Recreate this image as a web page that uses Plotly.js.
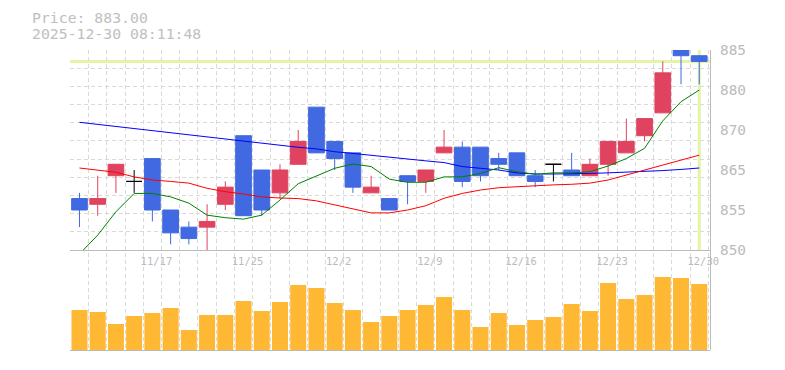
<!DOCTYPE html>
<html><head><meta charset="utf-8">
<script src="https://cdn.plot.ly/plotly-3.0.1.min.js"></script>
<style>html,body{margin:0;padding:0;background:#fff}#chart{width:785px;height:370px}</style>
</head><body><div id="chart"></div>
<script>
// ---- data ----
const dates = ['11/11','11/12','11/13','11/14','11/17','11/18','11/19','11/20','11/21',
  '11/25','11/26','11/27','11/28','12/1','12/2','12/3','12/4','12/5','12/8','12/9',
  '12/10','12/11','12/12','12/15','12/16','12/17','12/18','12/19','12/22','12/23',
  '12/24','12/25','12/26','12/29','12/30'];
const openP  = [859,858,863,862,866,857,854,854,858,870,864,860,865,875,869,867,860,859,863,862,867,868,868,866,867,863,865,864,863,865,867,870,874,885,884];
const highP  = [860,863,865,864,866,857,855,858,862,870,864,865,871,875,869,867,863,859,863,864,871,869,868,867,867,864,865,867,866,869,873,873,883,885,884];
const lowP   = [854,856,860,860,855,851,851,849,857,856,856,859,865,867,864,860,860,857,858,860,867,861,862,864,863,861,862,863,863,863,867,869,874,879,879];
const closeP = [857,859,865,862,857,853,852,855,861,856,857,864,869,867,866,861,861,857,862,864,868,862,863,865,863,862,865,863,865,869,869,873,881,884,883];
const maShort = [849.3,852.6,856.7,859.9,859.9,859.3,858.2,856.1,855.65,855.4,856.1,858.75,861.6,862.95,864.3,865.05,864.6,862.4,861.85,861.85,862.8,862.8,863.4,864.4,863.7,863.25,863.5,863.5,863.7,864.7,866.0,867.8,872.6,875.95,878.0];
const maMid = [864.35,863.95,863.6,862.8,862.25,862.0,861.7,860.8,860.2,859.8,859.3,859.1,859.0,858.6,857.9,857.1,856.5,856.5,857.0,857.75,859.05,859.9,860.5,860.9,861.1,861.3,861.4,861.5,861.7,862.25,863.1,864.0,864.9,865.75,866.6];
const maLong = [872.35,871.98,871.6,871.25,870.9,870.5,870.16,869.8,869.4,869.1,868.7,868.3,867.97,867.7,867.2,866.9,866.55,866.2,865.9,865.6,865.3,864.6,864.3,864.0,863.5,863.3,863.3,863.3,863.4,863.5,863.6,863.8,863.9,864.1,864.35];
const volume = [40,38,26,34,37,42,20,35,35,49,39,48,65,62,47,40,28,34,40,45,53,40,23,37,25,30,33,46,39,67,51,55,73,72,66];
const yTickVals = [850,857,864,871,878,885];
const yTickText = ['850','855','865','870','880','885'];
const stamp = '2025-12-30 08:11:48';

// ---- derived ----
const xs = dates.map((d,i)=>i);
const last = xs.length-1;
const lastClose = closeP[last];
const xTickVals = xs.filter(i => (last - i) % 5 === 0);
const xTickText = xTickVals.map(i => dates[i]);
const isDoji = xs.map(i => openP[i] === closeP[i]);
const pick = (arr, want) => xs.filter(i => isDoji[i] === want).map(i => arr[i]);

const RED = '#e0435f', BLUE = '#4169e1', GREY = '#bbbbbb', GRID = '#d9d9d9';
const FONT = 'DejaVu Sans Mono, Liberation Mono, monospace';
const XR = [-0.52, 34.59];
const YR = [850, 885.0001];

const traces = [
  {type:'scatter', x:[], y:[], xaxis:'x', yaxis:'y', showlegend:false, hoverinfo:'skip'},
  {type:'scatter', mode:'lines', x:[xs[0], xs[last]], y:[null, null], xaxis:'x2', yaxis:'y3', showlegend:false, hoverinfo:'skip'},
  {type:'scatter', mode:'lines', x:xs, y:maLong, xaxis:'x2', yaxis:'y2', line:{color:'#0000ff', width:1}, showlegend:false},
  {type:'scatter', mode:'lines', x:xs, y:maMid, xaxis:'x2', yaxis:'y2', line:{color:'#ff0000', width:1}, showlegend:false},
  {type:'scatter', mode:'lines', x:xs, y:maShort, xaxis:'x2', yaxis:'y2', line:{color:'#008000', width:1}, showlegend:false},
  {type:'candlestick', x:pick(xs,false), open:pick(openP,false), high:pick(highP,false), low:pick(lowP,false), close:pick(closeP,false),
   xaxis:'x2', yaxis:'y2', showlegend:false, whiskerwidth:0,
   increasing:{line:{color:RED, width:1}, fillcolor:RED},
   decreasing:{line:{color:BLUE, width:1}, fillcolor:BLUE}},
  {type:'candlestick', x:pick(xs,true), open:pick(openP,true), high:pick(highP,true), low:pick(lowP,true), close:pick(closeP,true),
   xaxis:'x2', yaxis:'y2', showlegend:false, whiskerwidth:0,
   increasing:{line:{color:'#000000', width:1}, fillcolor:'#000000'},
   decreasing:{line:{color:'#000000', width:1}, fillcolor:'#000000'}},
  {type:'bar', x:xs, y:volume, xaxis:'x3', yaxis:'y4', marker:{color:'#ffb833', line:{width:0}}, showlegend:false}
];

const layout = {
  width:785, height:370,
  margin:{l:70, r:75, t:50, b:20, pad:0},
  paper_bgcolor:'#ffffff', plot_bgcolor:'rgba(0,0,0,0)',
  showlegend:false, boxgap:0.14, boxgroupgap:0, bargap:0.12,
  font:{family:FONT, color:GREY, size:12},
  xaxis:{domain:[0,1], anchor:'y', range:XR, tickmode:'linear', tick0:0.5, dtick:1,
    showgrid:true, gridcolor:GRID, griddash:'4px,3px', gridwidth:1,
    showticklabels:false, ticks:'', zeroline:false, showline:false, fixedrange:true},
  yaxis:{domain:[0,1], anchor:'x', range:[0,1], side:'right', showline:true, linecolor:GREY, linewidth:1,
    showgrid:false, showticklabels:false, ticks:'', zeroline:false},
  xaxis2:{anchor:'y2', range:XR, rangeslider:{visible:false}, showgrid:false, zeroline:false,
    showline:true, linecolor:GREY, linewidth:1, tickmode:'array', tickvals:xTickVals, ticktext:xTickText,
    ticks:'', tickfont:{family:FONT, size:10.5, color:GREY}, ticklabelshift:4, ticklabelstandoff:1},
  yaxis2:{domain:[100/300,1], anchor:'x2', range:YR, tickmode:'linear', tick0:850, dtick:35/11,
    showgrid:true, gridcolor:GRID, griddash:'4px,3px', gridwidth:1,
    showticklabels:false, ticks:'', zeroline:false, showline:false},
  yaxis3:{overlaying:'y2', anchor:'x2', side:'right', range:YR, tickmode:'array', tickvals:yTickVals, ticktext:yTickText,
    showgrid:false, zeroline:false, showline:false, ticks:'', ticklabelstandoff:9, ticklabelshift:-2.5, showticklabels:true,
    tickfont:{family:FONT, size:14.4, color:GREY}},
  xaxis3:{anchor:'y4', range:XR, showgrid:false, zeroline:false, showline:true, linecolor:GREY, linewidth:1,
    showticklabels:false, ticks:''},
  yaxis4:{domain:[0,80/300], anchor:'x3', range:[0,80], showgrid:false, zeroline:false, showline:false,
    showticklabels:false, ticks:''},
  shapes:[
    {type:'line', xref:'paper', x0:0, x1:1, yref:'y2', y0:lastClose, y1:lastClose, line:{color:'#e3f4a6', width:3}, layer:'below'},
    {type:'line', xref:'x2', x0:last, x1:last, yref:'y2 domain', y0:0, y1:1, line:{color:'#e3f4a6', width:3}, layer:'below'}
  ],
  annotations:[
    {xref:'paper', yref:'paper', x:-40/640, y:(350-18)/300, xanchor:'left', yanchor:'middle', showarrow:false,
     text:'Price: ' + lastClose.toFixed(2), font:{family:FONT, size:14.8, color:'#c0c0c0'}},
    {xref:'paper', yref:'paper', x:-40/640, y:(350-33)/300, xanchor:'left', yanchor:'middle', showarrow:false,
     text:stamp, font:{family:FONT, size:14.8, color:'#c0c0c0'}}
  ]
};

Plotly.newPlot('chart', traces, layout, {displayModeBar:false, staticPlot:true});
</script>
</body></html>
